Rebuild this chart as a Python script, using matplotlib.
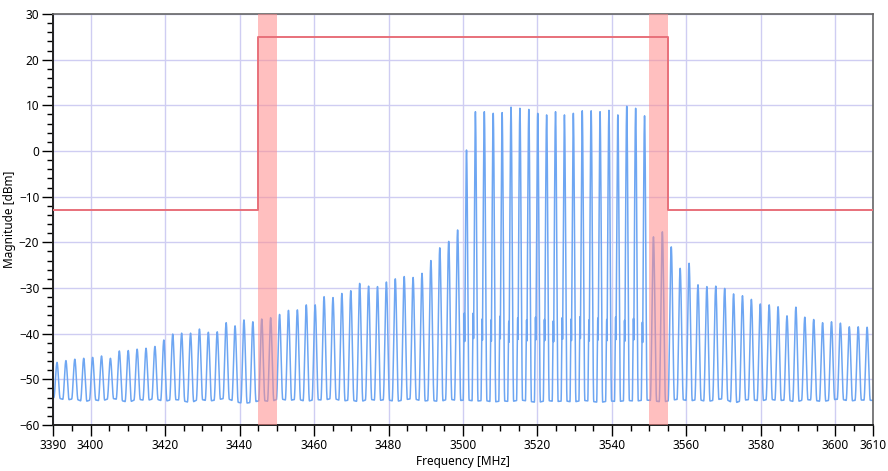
import numpy as np
import matplotlib
matplotlib.use('Agg')
import matplotlib.pyplot as plt
from matplotlib.ticker import FixedLocator, MultipleLocator

plt.rcParams['font.family'] = ['Noto Sans', 'DejaVu Sans']

# comb of tones (start + spacing in MHz)
tone_start = 3391.0
tone_step = 2.39
# peak level of each tone [dBm]
tone_levels = [
    -46.3, -45.9, -45.6, -45.4, -45.2, -44.9, -45.4, -43.8, -43.7, -43.4,
    -43.2, -42.8, -41.4, -40.1, -39.9, -39.9, -39.0, -39.7, -39.6, -37.6,
    -38.3, -37.0, -37.4, -36.8, -36.5, -35.8, -34.9, -34.8, -33.7, -33.7,
    -31.9, -32.1, -31.2, -30.6, -29.0, -29.6, -29.7, -28.7, -28.0, -27.5,
    -27.7, -26.8, -24.0, -21.2, -19.8, -17.3, 0.2,
    8.6, 8.6, 8.25, 8.4, 9.6, 9.35, 9.1, 8.25, 7.9, 8.6,
    7.9, 8.25, 8.8, 8.8, 8.6, 8.9, 7.9, 9.8, 9.35, 7.7,
    -18.8, -17.7, -21.0, -25.7, -24.6, -29.3, -29.7, -29.6, -30.1, -31.3,
    -31.7, -32.5, -33.5, -33.7, -34.1, -36.1, -34.2, -36.4, -36.9, -37.6,
    -37.4, -37.7, -38.5, -38.5, -38.6,
]
# noise floor next to each tone [dBm]
floor_levels = [
    -54.0, -54.6, -54.2, -55.0, -54.4, -54.8, -54.1, -54.5, -55.1, -54.3,
    -54.7, -54.2, -54.9, -54.4, -54.6, -55.2, -54.3, -54.8, -54.5, -54.1,
    -54.9, -55.3, -55.0, -54.6, -54.9, -54.2, -54.7, -54.3, -54.9, -54.4,
    -54.6, -54.1, -54.8, -54.5, -55.0, -54.3, -54.7, -54.4, -54.9, -54.5,
    -54.2, -54.8, -54.6, -54.9, -54.3, -54.7, -54.5,
    -54.8, -54.6, -55.0, -54.7, -54.9, -54.5, -54.8, -55.1, -54.6, -54.9,
    -54.7, -55.0, -54.6, -54.8, -55.1, -54.7, -54.9, -54.6, -54.8, -54.5,
    -54.7, -55.0, -54.6, -54.3, -54.8, -54.4, -54.9, -54.5, -54.2, -55.3,
    -54.6, -54.4, -54.8, -54.3, -54.7, -54.5, -55.0, -54.4, -54.6, -54.9,
    -54.5, -54.3, -54.8, -54.5, -54.6,
]
# small intermod bumps beside the in-band tones (tones 46..66)
spur_first = 46
spur_levels = [
    -35.5, -35.5, -36.8, -37.0, -36.2, -37.3, -36.6, -37.0, -36.4, -36.9,
    -37.2, -36.5, -36.8, -36.3, -37.0, -36.6, -36.9, -36.4, -37.1, -36.7, -37.5,
]

# spectrum emission mask
mask_freq = [3390, 3445, 3445, 3555, 3555, 3610]
mask_level = [-13, -13, 25, 25, -13, -13]
# guard bands
bands = [(3445, 3450), (3550, 3555)]

x_labels = [3390, 3400, 3420, 3440, 3460, 3480, 3500, 3520, 3540, 3560, 3580, 3600, 3610]

# build the displayed trace from the tone list
tones = tone_start + tone_step * np.arange(len(tone_levels))
freq = np.arange(3390.0, 3610.0001, 0.01)
base = np.interp(freq, tones, floor_levels)
trace = base.copy()
for fk, lk in zip(tones, tone_levels):
    hw = 0.85 if lk < -10 else 0.7
    u = np.abs(freq - fk) / hw
    m = u < 1
    g = (1 - u[m]) ** 2 * (1 + 2 * u[m])
    trace[m] = np.maximum(trace[m], base[m] + (lk - base[m]) * g)
for i, ls in enumerate(spur_levels):
    fs = tones[spur_first + i] - 0.6
    u = np.abs(freq - fs) / 0.3
    m = u < 1
    g = (1 - u[m]) ** 2 * (1 + 2 * u[m])
    trace[m] = np.maximum(trace[m], base[m] + (ls - base[m]) * g)

fig = plt.figure(figsize=(8.88, 4.71), dpi=100)
ax = fig.add_axes([0.060, 0.0977, 0.9228, 0.8726])

ax.plot(freq, trace, color='#6ea6f2', lw=1.1, zorder=2)
for lo, hi in bands:
    ax.axvspan(lo, hi, color='#ff8c8c', alpha=0.55, lw=0, zorder=3)
ax.plot(mask_freq, mask_level, color='#e8707a', lw=1.4, zorder=4)

ax.set_xlim(3390, 3610)
ax.set_ylim(-60, 30)
ax.xaxis.set_major_locator(FixedLocator(x_labels))
ax.xaxis.set_minor_locator(MultipleLocator(5))
ax.yaxis.set_major_locator(MultipleLocator(10))
ax.yaxis.set_minor_locator(MultipleLocator(2))
ax.grid(True, which='major', color='#cfcdf2', lw=1.0, zorder=1)
ax.set_axisbelow(True)

ax.tick_params(which='major', direction='out', length=8, width=1.0, labelsize=8.5, pad=2)
ax.tick_params(which='minor', direction='out', length=4, width=1.0)
for side in ['left', 'bottom']:
    ax.spines[side].set_linewidth(1.4)
    ax.spines[side].set_color('#222222')
for side in ['top', 'right']:
    ax.spines[side].set_linewidth(1.2)
    ax.spines[side].set_color('#666666')

ax.set_xlabel('Frequency [MHz]', fontsize=8.5, labelpad=2)
ax.set_ylabel('Magnitude [dBm]', fontsize=8.5, labelpad=2)

fig.savefig('out.png', dpi=100)
